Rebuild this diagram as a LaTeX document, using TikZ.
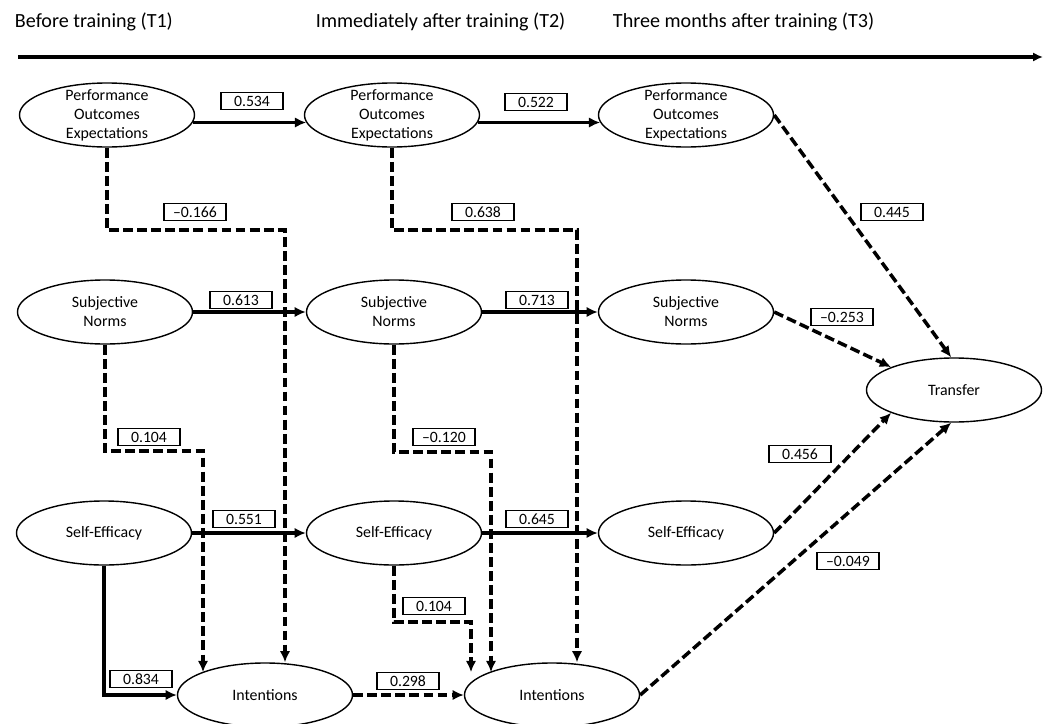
\documentclass[tikz,border=0pt]{standalone}
\usepackage{fontspec}
\setmainfont{Carlito}
\usetikzlibrary{shapes.geometric,arrows.meta}

\begin{document}
\begin{tikzpicture}[x=0.025cm, y=-0.025cm,
  var/.style={draw, ellipse, line width=1pt, minimum width=4.375cm, minimum height=1.6cm,
    inner sep=0pt, align=center, font=\fontsize{11.3}{13.5}\selectfont},
  var3/.style={var, inner ysep=-3pt},
  peso/.style={draw, line width=0.85pt, minimum width=1.55cm, minimum height=0.42cm,
    inner xsep=5pt, inner ysep=1pt, font=\fontsize{11.2}{13}\selectfont},
  flecha/.style={line width=2.5pt, -{Latex[length=8pt,width=7.5pt]}},
  flechad/.style={flecha, dash pattern=on 7pt off 3pt},
  tiempo/.style={anchor=west, font=\fontsize{14.3}{16}\selectfont}]
  \useasboundingbox (0,0) rectangle (1045,723);
  % el eje del tiempo
  \node[tiempo] (t1) at (10,22) {Before training (T1)};
  \node[tiempo] (t2) at (311,22) {Immediately after training (T2)};
  \node[tiempo] (t3) at (608,22) {Three months after training (T3)};
  \coordinate (ini) at (18,57);
  \coordinate (fin) at (1043,57);
  \draw[line width=2.5pt, -{Latex[length=7pt,width=6.5pt]}] (ini) -- (fin);
  % las variables, fila por fila
  \node[var3] (po1) at (107,115) {Performance\\Outcomes\\Expectations};
  \node[var3] (po2) at (392,115) {Performance\\Outcomes\\Expectations};
  \node[var3] (po3) at (686,115) {Performance\\Outcomes\\Expectations};
  \node[var] (sn1) at (105,312) {Subjective\\Norms};
  \node[var] (sn2) at (394,312) {Subjective\\Norms};
  \node[var] (sn3) at (686,312) {Subjective\\Norms};
  \node[var] (se1) at (104,533) {Self-Efficacy};
  \node[var] (se2) at (394,533) {Self-Efficacy};
  \node[var] (se3) at (686,533) {Self-Efficacy};
  \node[var] (int1) at (265,695) {Intentions};
  \node[var] (int2) at (552,695) {Intentions};
  \node[var] (tr) at (954,390) {Transfer};
  % de un momento al siguiente
  \draw[flecha] (po1.-5) -- (po2.185);
  \draw[flecha] (po2.-5) -- (po3.185);
  \draw[flecha] (sn1) -- (sn2);
  \draw[flecha] (sn2) -- (sn3);
  \draw[flecha] (se1) -- (se2);
  \draw[flecha] (se2) -- (se3);
  \draw[flecha] (se1.south) |- (int1.west);
  \draw[flechad] (int1) -- (int2);
  % los codos hacia las intenciones
  \coordinate (c1) at (285,230);
  \coordinate (c2) at (577,230);
  \coordinate (c3) at (203,451);
  \coordinate (c4) at (491,452);
  \coordinate (c5) at (471,622);
  \draw[flechad] (po1.south) |- (c1) -- (c1 |- int1.north);
  \draw[flechad] (po2.south) |- (c2) -- (c2 |- int2.north);
  \draw[flechad] (sn1.south) |- (c3) -- (c3 |- int1.160);
  \draw[flechad] (sn2.south) |- (c4) -- (c4 |- int2.160);
  \draw[flechad] (se2.south) |- (c5) -- (c5 |- int2.160);
  % todo llega a la transferencia
  \draw[flechad] (po3.east) -- (tr.95);
  \draw[flechad] (sn3.east) -- (tr.160);
  \draw[flechad] (se3.east) -- (tr.200);
  \draw[flechad] (int2.east) -- (tr.265);
  % los pesos
  \foreach \n/\x/\y/\t in {a/252/101/0.534, b/536/102/0.522, c/195/212/\textendash0.166,
                           d/483/212/0.638, e/892/212/0.445, f/241/300/0.613, g/537/300/0.713,
                           h/842/317/\textendash0.253, i/149/437/0.104, j/444/437/\textendash0.120,
                           k/800/454/0.456, l/244/519/0.551, m/537/519/0.645, n/848/561/\textendash0.049,
                           o/434/606/0.104, p/141/679/0.834, q/408/681/0.298} {
    \node[peso] (w\n) at (\x,\y) {\t};
  }
\end{tikzpicture}
\end{document}
